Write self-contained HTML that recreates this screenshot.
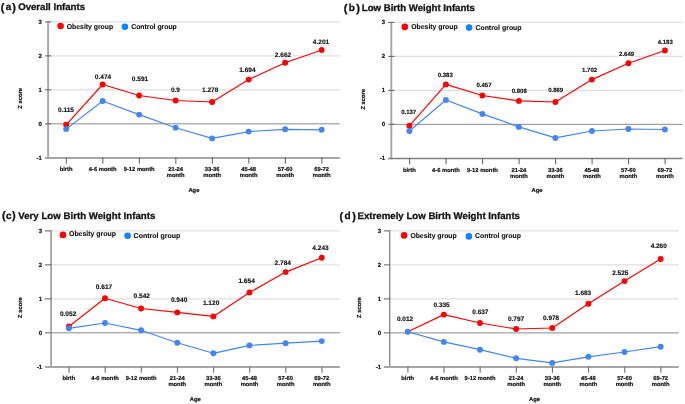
<!DOCTYPE html>
<html><head><meta charset="utf-8"><title>Z score by age</title>
<style>
html,body{margin:0;padding:0;background:#fff;}
svg{display:block;will-change:transform;}
text{font-family:"Liberation Sans",sans-serif;font-weight:bold;fill:#111111;text-rendering:geometricPrecision;}
.t{font-size:5.8px;text-anchor:middle;stroke:#111;stroke-width:0.2px;}
.y{font-size:6px;text-anchor:end;stroke:#111;stroke-width:0.2px;}
.d{text-anchor:middle;stroke:#111;stroke-width:0.15px;}
.l{font-size:7.1px;stroke:#111;stroke-width:0.12px;}
.h{stroke:#111;stroke-width:0.3px;}
</style></head>
<body>
<svg width="685" height="404" viewBox="0 0 685 404">
<rect width="685" height="404" fill="#fff"/>
<g id="panel-a">
<line x1="48.3" y1="21.9" x2="339.8" y2="21.9" stroke="#dfdfdf" stroke-width="1.25"/>
<line x1="48.3" y1="55.88" x2="339.8" y2="55.88" stroke="#dfdfdf" stroke-width="1.25"/>
<line x1="48.3" y1="89.85" x2="339.8" y2="89.85" stroke="#dfdfdf" stroke-width="1.25"/>
<line x1="48.3" y1="123.83" x2="339.8" y2="123.83" stroke="#8a8a8a" stroke-width="1"/>
<line x1="48.1" y1="21.6" x2="48.1" y2="158.9" stroke="#a6a6a6" stroke-width="1.9"/>
<line x1="45" y1="158" x2="339.8" y2="158" stroke="#a6a6a6" stroke-width="2"/>
<line x1="45" y1="21.9" x2="51.1" y2="21.9" stroke="#5e5e5e" stroke-width="1"/>
<text class="y" x="41.9" y="23.6">3</text>
<line x1="45" y1="55.88" x2="51.1" y2="55.88" stroke="#5e5e5e" stroke-width="1"/>
<text class="y" x="41.9" y="57.58">2</text>
<line x1="45" y1="89.85" x2="51.1" y2="89.85" stroke="#5e5e5e" stroke-width="1"/>
<text class="y" x="41.9" y="91.55">1</text>
<line x1="45" y1="123.83" x2="51.1" y2="123.83" stroke="#5e5e5e" stroke-width="1"/>
<text class="y" x="41.9" y="125.53">0</text>
<text class="y" x="41.9" y="159.5">-1</text>
<line x1="66.35" y1="157.4" x2="66.35" y2="163.7" stroke="#5a5a5a" stroke-width="1"/>
<text class="t" x="66.15" y="171.1">birth</text>
<line x1="102.85" y1="157.4" x2="102.85" y2="163.7" stroke="#5a5a5a" stroke-width="1"/>
<text class="t" x="102.65" y="171.1">4-6 month</text>
<line x1="139.35" y1="157.4" x2="139.35" y2="163.7" stroke="#5a5a5a" stroke-width="1"/>
<text class="t" x="139.15" y="171.1">9-12 month</text>
<line x1="175.85" y1="157.4" x2="175.85" y2="163.7" stroke="#5a5a5a" stroke-width="1"/>
<text class="t" x="175.65" y="171.1">21-24</text>
<text class="t" x="175.65" y="177.1">month</text>
<line x1="212.35" y1="157.4" x2="212.35" y2="163.7" stroke="#5a5a5a" stroke-width="1"/>
<text class="t" x="212.15" y="171.1">33-36</text>
<text class="t" x="212.15" y="177.1">month</text>
<line x1="248.85" y1="157.4" x2="248.85" y2="163.7" stroke="#5a5a5a" stroke-width="1"/>
<text class="t" x="248.65" y="171.1">45-48</text>
<text class="t" x="248.65" y="177.1">month</text>
<line x1="285.35" y1="157.4" x2="285.35" y2="163.7" stroke="#5a5a5a" stroke-width="1"/>
<text class="t" x="285.15" y="171.1">57-60</text>
<text class="t" x="285.15" y="177.1">month</text>
<line x1="321.85" y1="157.4" x2="321.85" y2="163.7" stroke="#5a5a5a" stroke-width="1"/>
<text class="t" x="321.65" y="171.1">69-72</text>
<text class="t" x="321.65" y="177.1">month</text>
<text class="t" transform="translate(20.5 98.4) rotate(-90)" x="0" y="1.6">Z score</text>
<text class="t" x="193.9" y="191.7">Age</text>
<polyline points="66.15,124.8 102.65,84.5 139.15,95.5 175.65,100.5 212.15,102 248.65,79.6 285.15,62.8 321.65,50" fill="none" stroke="#fe0000" stroke-width="1.18" stroke-linejoin="round"/>
<circle cx="66.15" cy="124.8" r="2.95" fill="#fe0000"/>
<circle cx="102.65" cy="84.5" r="2.95" fill="#fe0000"/>
<circle cx="139.15" cy="95.5" r="2.95" fill="#fe0000"/>
<circle cx="175.65" cy="100.5" r="2.95" fill="#fe0000"/>
<circle cx="212.15" cy="102" r="2.95" fill="#fe0000"/>
<circle cx="248.65" cy="79.6" r="2.95" fill="#fe0000"/>
<circle cx="285.15" cy="62.8" r="2.95" fill="#fe0000"/>
<circle cx="321.65" cy="50" r="2.95" fill="#fe0000"/>
<polyline points="66.15,129.1 102.65,101 139.15,114.6 175.65,127.8 212.15,138.4 248.65,131.6 285.15,129.3 321.65,129.8" fill="none" stroke="#4285f4" stroke-width="1.18" stroke-linejoin="round"/>
<circle cx="66.15" cy="129.1" r="2.95" fill="#4285f4"/>
<circle cx="102.65" cy="101" r="2.95" fill="#4285f4"/>
<circle cx="139.15" cy="114.6" r="2.95" fill="#4285f4"/>
<circle cx="175.65" cy="127.8" r="2.95" fill="#4285f4"/>
<circle cx="212.15" cy="138.4" r="2.95" fill="#4285f4"/>
<circle cx="248.65" cy="131.6" r="2.95" fill="#4285f4"/>
<circle cx="285.15" cy="129.3" r="2.95" fill="#4285f4"/>
<circle cx="321.65" cy="129.8" r="2.95" fill="#4285f4"/>
<rect x="57.17" y="106.2" width="17.66" height="7.2" fill="#fff"/>
<text class="d" x="66" y="112.13" font-size="6.5px">0.115</text>
<rect x="94.17" y="72.9" width="17.66" height="7.2" fill="#fff"/>
<text class="d" x="103" y="78.83" font-size="6.5px">0.474</text>
<rect x="131.17" y="75.5" width="17.66" height="7.2" fill="#fff"/>
<text class="d" x="140" y="81.43" font-size="6.5px">0.591</text>
<rect x="170.18" y="85.6" width="10.44" height="7.2" fill="#fff"/>
<text class="d" x="175.4" y="91.53" font-size="6.5px">0.9</text>
<rect x="201.37" y="86.4" width="17.66" height="7.2" fill="#fff"/>
<text class="d" x="210.2" y="92.33" font-size="6.5px">1.278</text>
<rect x="238.57" y="66" width="17.66" height="7.2" fill="#fff"/>
<text class="d" x="247.4" y="71.93" font-size="6.5px">1.694</text>
<rect x="274.17" y="51.4" width="17.66" height="7.2" fill="#fff"/>
<text class="d" x="283" y="57.33" font-size="6.5px">2.662</text>
<rect x="312.17" y="38.2" width="17.66" height="7.2" fill="#fff"/>
<text class="d" x="321" y="44.13" font-size="6.5px">4.201</text>
<circle cx="60.6" cy="26" r="3.3" fill="#fe0000"/>
<text class="l" x="66.8" y="28.9" textLength="46.3" lengthAdjust="spacingAndGlyphs">Obesity group</text>
<circle cx="124.9" cy="26.75" r="3.3" fill="#0a84ff"/>
<text class="l" x="131.2" y="29.4" textLength="45.6" lengthAdjust="spacingAndGlyphs">Control group</text>
<text class="h" x="0.65" y="10.8" font-size="10.9px">(</text><text class="h" x="8.5" y="10.2" font-size="10px" text-anchor="middle">a</text><text class="h" x="15.95" y="10.8" font-size="10.9px" text-anchor="end">)</text>
<text class="h" x="18.2" y="10.1" font-size="9.6px" textLength="66.8" lengthAdjust="spacingAndGlyphs">Overall Infants</text>
</g>
<g id="panel-b">
<line x1="391.5" y1="22.4" x2="682.6" y2="22.4" stroke="#dfdfdf" stroke-width="1.25"/>
<line x1="391.5" y1="56.38" x2="682.6" y2="56.38" stroke="#dfdfdf" stroke-width="1.25"/>
<line x1="391.5" y1="90.35" x2="682.6" y2="90.35" stroke="#dfdfdf" stroke-width="1.25"/>
<line x1="391.5" y1="124.33" x2="682.6" y2="124.33" stroke="#8a8a8a" stroke-width="1"/>
<line x1="391.3" y1="22.1" x2="391.3" y2="159.4" stroke="#a6a6a6" stroke-width="1.9"/>
<line x1="388.1" y1="158.55" x2="682.6" y2="158.55" stroke="#808080" stroke-width="1.4"/>
<line x1="388.1" y1="22.4" x2="394.4" y2="22.4" stroke="#5e5e5e" stroke-width="1"/>
<text class="y" x="385.2" y="24.1">3</text>
<line x1="388.1" y1="56.38" x2="394.4" y2="56.38" stroke="#5e5e5e" stroke-width="1"/>
<text class="y" x="385.2" y="58.08">2</text>
<line x1="388.1" y1="90.35" x2="394.4" y2="90.35" stroke="#5e5e5e" stroke-width="1"/>
<text class="y" x="385.2" y="92.05">1</text>
<line x1="388.1" y1="124.33" x2="394.4" y2="124.33" stroke="#5e5e5e" stroke-width="1"/>
<text class="y" x="385.2" y="126.03">0</text>
<text class="y" x="385.2" y="160">-1</text>
<line x1="409.6" y1="157.9" x2="409.6" y2="164.2" stroke="#666666" stroke-width="1.1"/>
<text class="t" x="409.4" y="171.5">birth</text>
<line x1="446.1" y1="157.9" x2="446.1" y2="164.2" stroke="#666666" stroke-width="1.1"/>
<text class="t" x="445.9" y="171.5">4-6 month</text>
<line x1="482.6" y1="157.9" x2="482.6" y2="164.2" stroke="#666666" stroke-width="1.1"/>
<text class="t" x="482.4" y="171.5">9-12 month</text>
<line x1="519.1" y1="157.9" x2="519.1" y2="164.2" stroke="#666666" stroke-width="1.1"/>
<text class="t" x="518.9" y="171.5">21-24</text>
<text class="t" x="518.9" y="177.9">month</text>
<line x1="555.6" y1="157.9" x2="555.6" y2="164.2" stroke="#666666" stroke-width="1.1"/>
<text class="t" x="555.4" y="171.5">33-36</text>
<text class="t" x="555.4" y="177.9">month</text>
<line x1="592.1" y1="157.9" x2="592.1" y2="164.2" stroke="#666666" stroke-width="1.1"/>
<text class="t" x="591.9" y="171.5">45-48</text>
<text class="t" x="591.9" y="177.9">month</text>
<line x1="628.6" y1="157.9" x2="628.6" y2="164.2" stroke="#666666" stroke-width="1.1"/>
<text class="t" x="628.4" y="171.5">57-60</text>
<text class="t" x="628.4" y="177.9">month</text>
<line x1="665.1" y1="157.9" x2="665.1" y2="164.2" stroke="#666666" stroke-width="1.1"/>
<text class="t" x="664.9" y="171.5">69-72</text>
<text class="t" x="664.9" y="177.9">month</text>
<text class="t" transform="translate(363.5 99.3) rotate(-90)" x="0" y="1.6">Z score</text>
<text class="t" x="537" y="192.1">Age</text>
<polyline points="409.4,125.8 445.9,84.4 482.4,95.5 518.9,100.9 555.4,102 591.9,79.6 628.4,63.3 664.9,50.5" fill="none" stroke="#fe0000" stroke-width="1.18" stroke-linejoin="round"/>
<circle cx="409.4" cy="125.8" r="2.95" fill="#fe0000"/>
<circle cx="445.9" cy="84.4" r="2.95" fill="#fe0000"/>
<circle cx="482.4" cy="95.5" r="2.95" fill="#fe0000"/>
<circle cx="518.9" cy="100.9" r="2.95" fill="#fe0000"/>
<circle cx="555.4" cy="102" r="2.95" fill="#fe0000"/>
<circle cx="591.9" cy="79.6" r="2.95" fill="#fe0000"/>
<circle cx="628.4" cy="63.3" r="2.95" fill="#fe0000"/>
<circle cx="664.9" cy="50.5" r="2.95" fill="#fe0000"/>
<polyline points="409.4,131 445.9,100 482.4,113.9 518.9,126.9 555.4,137.9 591.9,131 628.4,129 664.9,129.5" fill="none" stroke="#4285f4" stroke-width="1.18" stroke-linejoin="round"/>
<circle cx="409.4" cy="131" r="2.95" fill="#4285f4"/>
<circle cx="445.9" cy="100" r="2.95" fill="#4285f4"/>
<circle cx="482.4" cy="113.9" r="2.95" fill="#4285f4"/>
<circle cx="518.9" cy="126.9" r="2.95" fill="#4285f4"/>
<circle cx="555.4" cy="137.9" r="2.95" fill="#4285f4"/>
<circle cx="591.9" cy="131" r="2.95" fill="#4285f4"/>
<circle cx="628.4" cy="129" r="2.95" fill="#4285f4"/>
<circle cx="664.9" cy="129.5" r="2.95" fill="#4285f4"/>
<rect x="400.49" y="108.2" width="16.41" height="7.2" fill="#fff"/>
<text class="d" x="408.7" y="113.95" font-size="6px">0.137</text>
<rect x="437.09" y="71.6" width="16.41" height="7.2" fill="#fff"/>
<text class="d" x="445.3" y="77.35" font-size="6px">0.383</text>
<rect x="475.79" y="80.9" width="16.41" height="7.2" fill="#fff"/>
<text class="d" x="484" y="86.65" font-size="6px">0.457</text>
<rect x="511.09" y="87.4" width="16.41" height="7.2" fill="#fff"/>
<text class="d" x="519.3" y="93.15" font-size="6px">0.808</text>
<rect x="547.49" y="86.6" width="16.41" height="7.2" fill="#fff"/>
<text class="d" x="555.7" y="92.35" font-size="6px">0.869</text>
<rect x="581.39" y="66" width="16.41" height="7.2" fill="#fff"/>
<text class="d" x="589.6" y="71.75" font-size="6px">1.702</text>
<rect x="618.39" y="50.2" width="16.41" height="7.2" fill="#fff"/>
<text class="d" x="626.6" y="55.95" font-size="6px">2.649</text>
<rect x="657.09" y="37.9" width="16.41" height="7.2" fill="#fff"/>
<text class="d" x="665.3" y="43.65" font-size="6px">4.183</text>
<circle cx="404.8" cy="26.9" r="3.3" fill="#fe0000"/>
<text class="l" x="411.3" y="28.8" textLength="46.3" lengthAdjust="spacingAndGlyphs">Obesity group</text>
<circle cx="469.1" cy="27.6" r="3.3" fill="#0a84ff"/>
<text class="l" x="475.4" y="30" textLength="46.2" lengthAdjust="spacingAndGlyphs">Control group</text>
<text class="h" x="343.84" y="11.55" font-size="11.2px">(</text><text class="h" x="351.7" y="10.95" font-size="10px" text-anchor="middle">b</text><text class="h" x="359.97" y="11.55" font-size="11.2px" text-anchor="end">)</text>
<text class="h" x="361.8" y="10.8" font-size="9.6px" textLength="113.1" lengthAdjust="spacingAndGlyphs">Low Birth Weight Infants</text>
</g>
<g id="panel-c">
<line x1="51.3" y1="230.9" x2="339.8" y2="230.9" stroke="#dfdfdf" stroke-width="1.25"/>
<line x1="51.3" y1="264.88" x2="339.8" y2="264.88" stroke="#dfdfdf" stroke-width="1.25"/>
<line x1="51.3" y1="298.85" x2="339.8" y2="298.85" stroke="#dfdfdf" stroke-width="1.25"/>
<line x1="51.3" y1="332.83" x2="339.8" y2="332.83" stroke="#8a8a8a" stroke-width="1"/>
<line x1="51.1" y1="230.6" x2="51.1" y2="367.9" stroke="#a6a6a6" stroke-width="1.9"/>
<line x1="44.9" y1="366.95" x2="339.8" y2="366.95" stroke="#a6a6a6" stroke-width="2"/>
<line x1="44.9" y1="230.9" x2="51.3" y2="230.9" stroke="#5e5e5e" stroke-width="1"/>
<text class="y" x="42.1" y="232.6">3</text>
<line x1="44.9" y1="264.88" x2="51.3" y2="264.88" stroke="#5e5e5e" stroke-width="1"/>
<text class="y" x="42.1" y="266.57">2</text>
<line x1="44.9" y1="298.85" x2="51.3" y2="298.85" stroke="#5e5e5e" stroke-width="1"/>
<text class="y" x="42.1" y="300.55">1</text>
<line x1="44.9" y1="332.83" x2="51.3" y2="332.83" stroke="#5e5e5e" stroke-width="1"/>
<text class="y" x="42.1" y="334.53">0</text>
<text class="y" x="42.1" y="368.5">-1</text>
<line x1="69.1" y1="366.4" x2="69.1" y2="372.7" stroke="#7c7c7c" stroke-width="1.2"/>
<text class="t" x="68.9" y="379.9">birth</text>
<line x1="105.22" y1="366.4" x2="105.22" y2="372.7" stroke="#7c7c7c" stroke-width="1.2"/>
<text class="t" x="105.02" y="379.9">4-6 month</text>
<line x1="141.34" y1="366.4" x2="141.34" y2="372.7" stroke="#7c7c7c" stroke-width="1.2"/>
<text class="t" x="141.14" y="379.9">9-12 month</text>
<line x1="177.46" y1="366.4" x2="177.46" y2="372.7" stroke="#7c7c7c" stroke-width="1.2"/>
<text class="t" x="177.26" y="379.9">21-24</text>
<text class="t" x="177.26" y="386.1">month</text>
<line x1="213.58" y1="366.4" x2="213.58" y2="372.7" stroke="#7c7c7c" stroke-width="1.2"/>
<text class="t" x="213.38" y="379.9">33-36</text>
<text class="t" x="213.38" y="386.1">month</text>
<line x1="249.7" y1="366.4" x2="249.7" y2="372.7" stroke="#7c7c7c" stroke-width="1.2"/>
<text class="t" x="249.5" y="379.9">45-48</text>
<text class="t" x="249.5" y="386.1">month</text>
<line x1="285.82" y1="366.4" x2="285.82" y2="372.7" stroke="#7c7c7c" stroke-width="1.2"/>
<text class="t" x="285.62" y="379.9">57-60</text>
<text class="t" x="285.62" y="386.1">month</text>
<line x1="321.94" y1="366.4" x2="321.94" y2="372.7" stroke="#7c7c7c" stroke-width="1.2"/>
<text class="t" x="321.74" y="379.9">69-72</text>
<text class="t" x="321.74" y="386.1">month</text>
<text class="t" transform="translate(20.5 307.6) rotate(-90)" x="0" y="1.6">Z score</text>
<text class="t" x="195.2" y="400.8">Age</text>
<polyline points="68.9,326.5 105.02,298.2 141.14,308.5 177.26,312.4 213.38,316.4 249.5,292.5 285.62,272.1 321.74,257.8" fill="none" stroke="#fe0000" stroke-width="1.18" stroke-linejoin="round"/>
<circle cx="68.9" cy="326.5" r="2.95" fill="#fe0000"/>
<circle cx="105.02" cy="298.2" r="2.95" fill="#fe0000"/>
<circle cx="141.14" cy="308.5" r="2.95" fill="#fe0000"/>
<circle cx="177.26" cy="312.4" r="2.95" fill="#fe0000"/>
<circle cx="213.38" cy="316.4" r="2.95" fill="#fe0000"/>
<circle cx="249.5" cy="292.5" r="2.95" fill="#fe0000"/>
<circle cx="285.62" cy="272.1" r="2.95" fill="#fe0000"/>
<circle cx="321.74" cy="257.8" r="2.95" fill="#fe0000"/>
<polyline points="68.9,328.3 105.02,323 141.14,330.3 177.26,342.7 213.38,353.3 249.5,345.4 285.62,343.2 321.74,341.1" fill="none" stroke="#4285f4" stroke-width="1.18" stroke-linejoin="round"/>
<circle cx="68.9" cy="328.3" r="2.95" fill="#4285f4"/>
<circle cx="105.02" cy="323" r="2.95" fill="#4285f4"/>
<circle cx="141.14" cy="330.3" r="2.95" fill="#4285f4"/>
<circle cx="177.26" cy="342.7" r="2.95" fill="#4285f4"/>
<circle cx="213.38" cy="353.3" r="2.95" fill="#4285f4"/>
<circle cx="249.5" cy="345.4" r="2.95" fill="#4285f4"/>
<circle cx="285.62" cy="343.2" r="2.95" fill="#4285f4"/>
<circle cx="321.74" cy="341.1" r="2.95" fill="#4285f4"/>
<rect x="59.21" y="309.8" width="17.79" height="7.2" fill="#fff"/>
<text class="d" x="68.1" y="315.74" font-size="6.55px">0.052</text>
<rect x="95.11" y="283.4" width="17.79" height="7.2" fill="#fff"/>
<text class="d" x="104" y="289.34" font-size="6.55px">0.617</text>
<rect x="132.91" y="292.1" width="17.79" height="7.2" fill="#fff"/>
<text class="d" x="141.8" y="298.04" font-size="6.55px">0.542</text>
<rect x="170.21" y="296.2" width="17.79" height="7.2" fill="#fff"/>
<text class="d" x="179.1" y="302.14" font-size="6.55px">0.940</text>
<rect x="202.21" y="299.4" width="17.79" height="7.2" fill="#fff"/>
<text class="d" x="211.1" y="305.34" font-size="6.55px">1.120</text>
<rect x="237.71" y="277.5" width="17.79" height="7.2" fill="#fff"/>
<text class="d" x="246.6" y="283.44" font-size="6.55px">1.654</text>
<rect x="273.91" y="258.8" width="17.79" height="7.2" fill="#fff"/>
<text class="d" x="282.8" y="264.74" font-size="6.55px">2.784</text>
<rect x="311.61" y="243.9" width="17.79" height="7.2" fill="#fff"/>
<text class="d" x="320.5" y="249.84" font-size="6.55px">4.243</text>
<circle cx="63" cy="234.9" r="3.3" fill="#fe0000"/>
<text class="l" x="69" y="236.3" textLength="46.9" lengthAdjust="spacingAndGlyphs">Obesity group</text>
<circle cx="127.6" cy="235.7" r="3.3" fill="#0a84ff"/>
<text class="l" x="133.6" y="237.9" textLength="46.6" lengthAdjust="spacingAndGlyphs">Control group</text>
<text class="h" x="2.05" y="219.3" font-size="11px">(</text><text class="h" x="8.9" y="218.7" font-size="10px" text-anchor="middle">c</text><text class="h" x="15.56" y="219.3" font-size="11px" text-anchor="end">)</text>
<text class="h" x="18.3" y="218.7" font-size="9.6px" textLength="137" lengthAdjust="spacingAndGlyphs">Very Low Birth Weight Infants</text>
</g>
<g id="panel-d">
<line x1="389.9" y1="230.9" x2="678.8" y2="230.9" stroke="#dfdfdf" stroke-width="1.25"/>
<line x1="389.9" y1="264.9" x2="678.8" y2="264.9" stroke="#dfdfdf" stroke-width="1.25"/>
<line x1="389.9" y1="298.9" x2="678.8" y2="298.9" stroke="#dfdfdf" stroke-width="1.25"/>
<line x1="389.9" y1="332.9" x2="678.8" y2="332.9" stroke="#8a8a8a" stroke-width="1"/>
<line x1="389.7" y1="230.6" x2="389.7" y2="368" stroke="#8c8c8c" stroke-width="1.45"/>
<line x1="383.9" y1="367" x2="678.8" y2="367" stroke="#a6a6a6" stroke-width="2"/>
<line x1="383.9" y1="230.9" x2="389.9" y2="230.9" stroke="#5e5e5e" stroke-width="1"/>
<text class="y" x="381.1" y="232.6">3</text>
<line x1="383.9" y1="264.9" x2="389.9" y2="264.9" stroke="#5e5e5e" stroke-width="1"/>
<text class="y" x="381.1" y="266.6">2</text>
<line x1="383.9" y1="298.9" x2="389.9" y2="298.9" stroke="#5e5e5e" stroke-width="1"/>
<text class="y" x="381.1" y="300.6">1</text>
<line x1="383.9" y1="332.9" x2="389.9" y2="332.9" stroke="#5e5e5e" stroke-width="1"/>
<text class="y" x="381.1" y="334.6">0</text>
<text class="y" x="381.1" y="368.6">-1</text>
<line x1="407.9" y1="366.5" x2="407.9" y2="372.8" stroke="#747474" stroke-width="1.15"/>
<text class="t" x="407.7" y="379.9">birth</text>
<line x1="444.04" y1="366.5" x2="444.04" y2="372.8" stroke="#747474" stroke-width="1.15"/>
<text class="t" x="443.84" y="379.9">4-6 month</text>
<line x1="480.18" y1="366.5" x2="480.18" y2="372.8" stroke="#747474" stroke-width="1.15"/>
<text class="t" x="479.98" y="379.9">9-12 month</text>
<line x1="516.32" y1="366.5" x2="516.32" y2="372.8" stroke="#747474" stroke-width="1.15"/>
<text class="t" x="516.12" y="379.9">21-24</text>
<text class="t" x="516.12" y="386.1">month</text>
<line x1="552.46" y1="366.5" x2="552.46" y2="372.8" stroke="#747474" stroke-width="1.15"/>
<text class="t" x="552.26" y="379.9">33-36</text>
<text class="t" x="552.26" y="386.1">month</text>
<line x1="588.6" y1="366.5" x2="588.6" y2="372.8" stroke="#747474" stroke-width="1.15"/>
<text class="t" x="588.4" y="379.9">45-48</text>
<text class="t" x="588.4" y="386.1">month</text>
<line x1="624.74" y1="366.5" x2="624.74" y2="372.8" stroke="#747474" stroke-width="1.15"/>
<text class="t" x="624.54" y="379.9">57-60</text>
<text class="t" x="624.54" y="386.1">month</text>
<line x1="660.88" y1="366.5" x2="660.88" y2="372.8" stroke="#747474" stroke-width="1.15"/>
<text class="t" x="660.68" y="379.9">69-72</text>
<text class="t" x="660.68" y="386.1">month</text>
<text class="t" transform="translate(359.4 307.6) rotate(-90)" x="0" y="1.6">Z score</text>
<text class="t" x="534.5" y="400.8">Age</text>
<polyline points="407.7,331.8 443.84,314.6 479.98,323 516.12,329 552.26,328 588.4,303.8 624.54,281.1 660.68,259" fill="none" stroke="#fe0000" stroke-width="1.18" stroke-linejoin="round"/>
<circle cx="407.7" cy="331.8" r="2.4" fill="#fe0000"/>
<circle cx="443.84" cy="314.6" r="2.95" fill="#fe0000"/>
<circle cx="479.98" cy="323" r="2.95" fill="#fe0000"/>
<circle cx="516.12" cy="329" r="2.95" fill="#fe0000"/>
<circle cx="552.26" cy="328" r="2.95" fill="#fe0000"/>
<circle cx="588.4" cy="303.8" r="2.95" fill="#fe0000"/>
<circle cx="624.54" cy="281.1" r="2.95" fill="#fe0000"/>
<circle cx="660.68" cy="259" r="2.95" fill="#fe0000"/>
<polyline points="407.7,331.8 443.84,341.9 479.98,349.7 516.12,358.3 552.26,362.9 588.4,356.8 624.54,352 660.68,346.7" fill="none" stroke="#4285f4" stroke-width="1.18" stroke-linejoin="round"/>
<circle cx="407.7" cy="331.8" r="2.95" fill="#4285f4"/>
<circle cx="443.84" cy="341.9" r="2.95" fill="#4285f4"/>
<circle cx="479.98" cy="349.7" r="2.95" fill="#4285f4"/>
<circle cx="516.12" cy="358.3" r="2.95" fill="#4285f4"/>
<circle cx="552.26" cy="362.9" r="2.95" fill="#4285f4"/>
<circle cx="588.4" cy="356.8" r="2.95" fill="#4285f4"/>
<circle cx="624.54" cy="352" r="2.95" fill="#4285f4"/>
<circle cx="660.68" cy="346.7" r="2.95" fill="#4285f4"/>
<rect x="396.23" y="315.3" width="17.54" height="7.2" fill="#fff"/>
<text class="d" x="405" y="321.21" font-size="6.45px">0.012</text>
<rect x="432.83" y="300.9" width="17.54" height="7.2" fill="#fff"/>
<text class="d" x="441.6" y="306.81" font-size="6.45px">0.335</text>
<rect x="471.63" y="308" width="17.54" height="7.2" fill="#fff"/>
<text class="d" x="480.4" y="313.91" font-size="6.45px">0.637</text>
<rect x="507.23" y="315" width="17.54" height="7.2" fill="#fff"/>
<text class="d" x="516" y="320.91" font-size="6.45px">0.797</text>
<rect x="542.33" y="314.1" width="17.54" height="7.2" fill="#fff"/>
<text class="d" x="551.1" y="320.01" font-size="6.45px">0.978</text>
<rect x="574.33" y="288.9" width="17.54" height="7.2" fill="#fff"/>
<text class="d" x="583.1" y="294.81" font-size="6.45px">1.683</text>
<rect x="611.53" y="269" width="17.54" height="7.2" fill="#fff"/>
<text class="d" x="620.3" y="274.91" font-size="6.45px">2.525</text>
<rect x="649.93" y="242.2" width="17.54" height="7.2" fill="#fff"/>
<text class="d" x="658.7" y="248.11" font-size="6.45px">4.260</text>
<circle cx="404.1" cy="235.4" r="3.3" fill="#fe0000"/>
<text class="l" x="410.4" y="237.5" textLength="46.3" lengthAdjust="spacingAndGlyphs">Obesity group</text>
<circle cx="468.9" cy="236.4" r="3.3" fill="#0a84ff"/>
<text class="l" x="475" y="238.4" textLength="45.9" lengthAdjust="spacingAndGlyphs">Control group</text>
<text class="h" x="339.55" y="219.6" font-size="11px">(</text><text class="h" x="347.45" y="219" font-size="10px" text-anchor="middle">d</text><text class="h" x="355.96" y="219.6" font-size="11px" text-anchor="end">)</text>
<text class="h" x="357.5" y="219" font-size="9.6px" textLength="162.5" lengthAdjust="spacingAndGlyphs">Extremely Low Birth Weight Infants</text>
</g>
</svg>
</body></html>
